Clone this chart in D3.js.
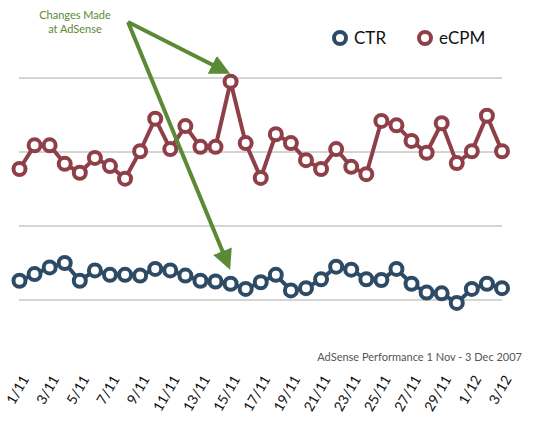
<!DOCTYPE html>
<html><head><meta charset="utf-8">
<script src="https://cdn.jsdelivr.net/npm/d3@7"></script>
<style>body{margin:0;background:#fff}text{font-family:Lato,"Open Sans",sans-serif}</style>
</head><body>
<svg id="chart" width="538" height="426"></svg>
<script>
var days = ["1/11","2/11","3/11","4/11","5/11","6/11","7/11","8/11","9/11","10/11","11/11","12/11","13/11","14/11","15/11","16/11","17/11","18/11","19/11","20/11","21/11","22/11","23/11","24/11","25/11","26/11","27/11","28/11","29/11","30/11","1/12","2/12","3/12"];
var ecpm = [1.77,2.09,2.09,1.84,1.72,1.92,1.81,1.64,2.01,2.45,2.04,2.35,2.07,2.07,2.95,2.12,1.65,2.24,2.12,1.89,1.77,2.04,1.80,1.70,2.42,2.36,2.15,1.99,2.39,1.85,2.01,2.49,2.01];
var ctr = [0.26,0.35,0.44,0.50,0.26,0.40,0.34,0.34,0.33,0.42,0.40,0.33,0.26,0.25,0.22,0.15,0.24,0.34,0.13,0.16,0.28,0.45,0.41,0.28,0.27,0.42,0.22,0.10,0.09,-0.04,0.15,0.22,0.16];
var gridVals = [0,1,2,3];

var svg = d3.select("#chart");
var x = d3.scalePoint().domain(days).range([19.5,502]);
var y = d3.scaleLinear().domain([0,3]).range([300,78]);

svg.append("g").selectAll("line").data(gridVals).join("line")
  .attr("x1",19).attr("x2",502).attr("y1",d=>y(d)).attr("y2",d=>y(d))
  .attr("stroke","#aaa").attr("stroke-width",1);

function series(data,color){
  var g = svg.append("g");
  g.append("path").datum(data)
    .attr("d",d3.line().x((d,i)=>x(days[i])).y(d=>y(d)))
    .attr("fill","none").attr("stroke",color).attr("stroke-width",4).attr("stroke-linejoin","round");
  g.selectAll("circle").data(data).join("circle")
    .attr("cx",(d,i)=>x(days[i])).attr("cy",d=>y(d)).attr("r",6)
    .attr("fill","#fff").attr("stroke",color).attr("stroke-width",4);
}
series(ecpm,"#8f3f47");
series(ctr,"#2e4b66");

// x labels every other day
svg.append("g").selectAll("text").data(days.filter((d,i)=>i%2==0)).join("text")
  .attr("transform",d=>"translate("+(x(d)+10)+",379) rotate(-60)")
  .attr("text-anchor","end").attr("font-size",14).attr("fill","#111").text(d=>d);

svg.append("text").attr("x",522).attr("y",361).attr("text-anchor","end")
  .attr("font-size",11).attr("fill","#555").text("AdSense Performance 1 Nov - 3 Dec 2007");

// legend
[["CTR","#2e4b66",340],["eCPM","#8f3f47",425]].forEach(function(l){
  svg.append("circle").attr("cx",l[2]).attr("cy",38).attr("r",6).attr("fill","#fff").attr("stroke",l[1]).attr("stroke-width",4);
  svg.append("text").attr("x",l[2]+14).attr("y",44).attr("font-size",17).attr("fill","#111").text(l[0]);
});

// annotation
var green = "#5a8a35";
svg.append("defs").append("marker").attr("id","ah").attr("viewBox","0 0 10 10").attr("refX",8).attr("refY",5)
  .attr("markerWidth",5).attr("markerHeight",5).attr("orient","auto")
  .append("path").attr("d","M0,0L10,5L0,10z").attr("fill",green);
[[x("15/11")-4,72],[x("15/11")-2,266]].forEach(function(t){
  svg.append("line").attr("x1",128).attr("y1",22).attr("x2",t[0]).attr("y2",t[1])
    .attr("stroke",green).attr("stroke-width",4).attr("marker-end","url(#ah)");
});
svg.append("text").attr("x",75).attr("y",19).attr("text-anchor","middle").attr("font-size",11).attr("fill",green).text("Changes Made");
svg.append("text").attr("x",75).attr("y",33).attr("text-anchor","middle").attr("font-size",11).attr("fill",green).text("at AdSense");
</script>
</body></html>
